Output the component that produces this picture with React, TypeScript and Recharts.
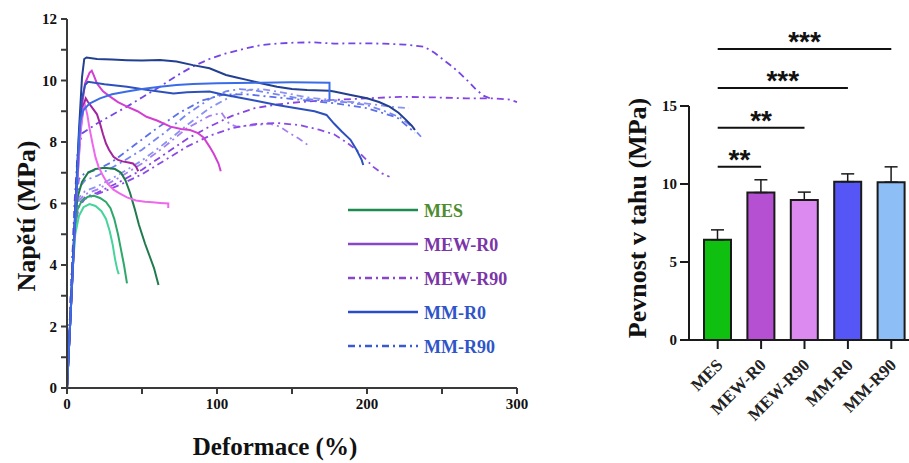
import React from "react";
import {
  LineChart,
  Line,
  XAxis,
  YAxis,
  Legend,
  BarChart,
  Bar,
  Cell,
  ErrorBar,
  ReferenceLine,
} from "recharts";

// ---- stress-strain curves: [strain %, stress MPa] ----
const mesA = [[0,0],[2,2],[4,4.1],[5.5,5.4],[7,6.2],[10,6.7],[14,7.0],[19,7.12],[25,7.16],[32,7.12],[36,7.0],[39,6.75],[42,6.35],[45,5.85],[48,5.3],[52,4.7],[55,4.3],[58,3.9],[61,3.35]];
const mesB = [[0,0],[2,2],[4,4],[5.5,5.2],[7,5.8],[10,6.1],[14,6.22],[18,6.25],[22,6.18],[26,6.05],[29,5.85],[31.5,5.5],[34,5.0],[36,4.5],[38,4.0],[40,3.4]];
const mesC = [[0,0],[2,2],[4,4],[5.5,5.0],[8,5.6],[11,5.88],[15,5.98],[19,5.92],[23,5.75],[26,5.5],[28.5,5.1],[30.5,4.65],[32,4.2],[33.5,3.85],[34.5,3.7]];

const mewR0A = [[0,0],[3,3],[6,6.2],[9,8.8],[12,9.9],[15,10.25],[16.5,10.32],[18,10.15],[20,9.9],[24,9.65],[28,9.5],[34,9.3],[40,9.15],[47,9.0],[53,8.82],[60,8.7],[69,8.5],[76,8.42],[82,8.39],[87,8.3],[91,8.15],[95,7.85],[98,7.6],[101,7.3],[102.5,7.05]];
const mewR0B = [[0,0],[3,3],[6,6.1],[9,8.4],[11,9.2],[12.5,9.42],[14,9.3],[17,9.1],[20,8.9],[22,8.6],[24,8.25],[26,7.95],[28,7.75],[31,7.52],[34,7.42],[37,7.37],[41,7.33],[44,7.3],[46,7.2],[47.5,7.05]];
const mewR0C = [[0,0],[3,3],[6,6.0],[9,8.3],[11,9.1],[12,9.2],[13.5,8.9],[15,8.45],[17,7.95],[19,7.5],[21,7.2],[24,6.9],[27,6.65],[31,6.45],[35,6.33],[40,6.2],[46,6.1],[52,6.06],[57,6.04],[62,6.02],[67.5,6.0],[67.5,5.85]];

const mewR90A = [[0,0],[3,3.5],[5,6],[7,7.6],[10,8.28],[20,8.6],[30,8.88],[40,9.15],[50,9.45],[62,9.8],[73,10.15],[84,10.46],[95,10.7],[106,10.88],[118,11.03],[129,11.15],[140,11.2],[151,11.23],[165,11.24],[178,11.2],[195,11.21],[211,11.2],[225,11.17],[238,11.1],[245,10.9],[251,10.67],[257,10.45],[262,10.23],[268,9.95],[273,9.69],[278,9.5],[282,9.42]];
const mewR90B = [[0,0],[3,3.5],[5,5.4],[8,6.0],[12,6.2],[20,6.35],[35,6.7],[50,7.1],[65,7.6],[80,8.1],[95,8.5],[110,8.85],[125,9.1],[140,9.22],[155,9.3],[175,9.36],[200,9.42],[222,9.47],[245,9.45],[266,9.42],[285,9.42],[295,9.38],[300,9.3]];
const mewR90C = [[0,0],[3,3.5],[5,5.3],[8,6.1],[12,6.3],[20,6.45],[35,6.85],[50,7.3],[65,7.85],[80,8.45],[95,8.85],[103,8.95],[108,8.6],[113,8.5],[125,8.55],[135,8.6],[142,8.5],[148,8.3],[155,8.1],[162,7.85]];
const mewR90D = [[0,0],[3,3.5],[5,5.2],[8,5.9],[12,6.15],[20,6.3],[35,6.6],[50,6.95],[65,7.4],[80,7.85],[95,8.2],[110,8.45],[125,8.58],[140,8.62],[155,8.55],[168,8.4],[178,8.25],[186,8.0],[193,7.74],[199,7.45],[204,7.2],[210,6.98],[215,6.87]];

const mmR0A = [[0,0],[2,2],[4,4.2],[6,6.3],[8,8.4],[10,10.1],[11.5,10.7],[13,10.75],[20,10.7],[30,10.68],[40,10.66],[50,10.65],[62,10.67],[73,10.62],[84,10.5],[95,10.4],[106,10.18],[113,10.1],[120,10.02],[130,9.9],[140,9.8],[150,9.72],[160,9.69],[175,9.67],[178,9.64],[190,9.52],[200,9.42],[208,9.3],[215,9.15],[221,8.95],[226,8.72],[230,8.52],[232,8.39]];
const mmR0B = [[0,0],[2,2],[4,4.1],[6,6.2],[8,8.2],[10,9.4],[12,9.85],[14,9.96],[25,9.88],[40,9.8],[55,9.68],[71,9.58],[80,9.62],[95,9.64],[103,9.55],[111,9.48],[125,9.35],[140,9.2],[155,9.08],[165,9.0],[173,8.88],[178,8.6],[183,8.35],[189,8.07],[193,7.75],[196.5,7.41],[197.5,7.25]];
const mmR0C = [[0,0],[2,2],[4,4.0],[6,6.1],[8,8.0],[9,8.7],[11,9.04],[15,9.25],[22,9.42],[30,9.55],[40,9.64],[50,9.72],[62,9.8],[73,9.85],[84,9.89],[100,9.91],[129,9.93],[150,9.94],[175,9.93],[175,9.37]];

const mmR90A = [[0,0],[3,3.5],[5,5.5],[8,6.5],[12,6.75],[20,6.9],[35,7.3],[50,7.75],[65,8.3],[80,8.9],[95,9.4],[106,9.65],[115,9.72],[125,9.68],[140,9.55],[155,9.42],[170,9.35],[185,9.3],[200,9.2],[212,9.0],[222,8.8],[230,8.5],[236,8.17]];
const mmR90B = [[0,0],[3,3.5],[5,5.4],[8,6.2],[12,6.4],[20,6.55],[35,6.95],[50,7.4],[65,7.95],[80,8.55],[95,9.1],[110,9.5],[122,9.7],[130,9.72],[145,9.6],[160,9.45],[180,9.35],[200,9.25],[215,9.15],[228,9.1]];
const mmR90C = [[0,0],[3,3.5],[5,5.8],[8,6.8],[12,7.0],[20,7.1],[30,7.35],[45,7.9],[60,8.45],[75,8.95],[90,9.35],[105,9.55],[120,9.55],[140,9.45],[160,9.35],[180,9.25],[200,9.1],[220,8.8],[232,8.3]];

const strainTicks = [0, 50, 100, 150, 200, 250, 300];
const stressTicks = [0, 1, 2, 3, 4, 5, 6, 7, 8, 9, 10, 11, 12];

const legendLabels = ["MES", "MEW-R0", "MEW-R90", "MM-R0", "MM-R90"];

// ---- tensile strength bars ----
const groups = ["MES", "MEW-R0", "MEW-R90", "MM-R0", "MM-R90"];
const strengthMean = [6.42, 9.45, 8.98, 10.15, 10.12];
const strengthSd = [0.64, 0.82, 0.5, 0.5, 0.98];
const strengthTicks = [0, 5, 10, 15];

const sigTargets = ["MEW-R0", "MEW-R90", "MM-R0", "MM-R90"];
const sigLevels = [11.1, 13.6, 16.15, 18.65];
const sigStars = ["**", "**", "***", "***"];

const SERIF = "'Liberation Serif', 'Times New Roman', serif";
const DASHDOT = "7 4 2 4";

const pts = (arr: number[][]) => arr.map(([x, y]) => ({ x, y }));

const curves = [
  { id: "mewR90A", d: mewR90A, color: "#7645e6", dash: true },
  { id: "mewR90B", d: mewR90B, color: "#8744e2", dash: true },
  { id: "mewR90C", d: mewR90C, color: "#a57ef2", dash: true },
  { id: "mewR90D", d: mewR90D, color: "#8c4ae6", dash: true },
  { id: "mmR90A", d: mmR90A, color: "#7686f0", dash: true },
  { id: "mmR90B", d: mmR90B, color: "#8a92f2", dash: true },
  { id: "mmR90C", d: mmR90C, color: "#5c70e8", dash: true },
  { id: "mesA", d: mesA, color: "#1f7a4c", dash: false },
  { id: "mesB", d: mesB, color: "#2ea86a", dash: false },
  { id: "mesC", d: mesC, color: "#45d49c", dash: false },
  { id: "mewR0A", d: mewR0A, color: "#d23fd2", dash: false },
  { id: "mewR0B", d: mewR0B, color: "#a3259e", dash: false },
  { id: "mewR0C", d: mewR0C, color: "#ee68ee", dash: false },
  { id: "mmR0A", d: mmR0A, color: "#233f8f", dash: false },
  { id: "mmR0B", d: mmR0B, color: "#2e50bd", dash: false },
  { id: "mmR0C", d: mmR0C, color: "#3b6ce8", dash: false },
];

const legendLine = ["#1e8a50", "#8a46c8", "#8a46c8", "#2a4cc8", "#3a5ad0"];
const legendText = ["#4e8c2e", "#7a35a8", "#7a35a8", "#2f55c8", "#2f55c8"];
const legendDash = [false, false, true, false, true];

const barFill = ["#10c010", "#b550d2", "#dd8af0", "#5656f6", "#8ebef6"];

const barData = groups.map((g, i) => ({
  name: g,
  mean: strengthMean[i],
  err: [0, strengthSd[i]],
}));

const renderLegend = () => (
  <svg width={200} height={170}>
    {legendLabels.map((lab, i) => {
      const y = 10 + i * 34;
      return (
        <g key={lab}>
          <line x1={0} x2={70} y1={y} y2={y} stroke={legendLine[i]} strokeWidth={2.5}
            strokeDasharray={legendDash[i] ? DASHDOT : undefined} />
          <text x={76} y={y + 6.5} fill={legendText[i]} fontFamily={SERIF} fontWeight="bold" fontSize={18}>
            {lab}
          </text>
        </g>
      );
    })}
  </svg>
);

const CatTick = (props: any) => {
  const { x, y, payload } = props;
  const ax = x + 6;
  const ay = y + 15;
  return (
    <text x={ax} y={ay} textAnchor="end" transform={`rotate(-45 ${ax} ${ay})`}
      fontFamily={SERIF} fontWeight="bold" fontSize={17} fill="#222">
      {payload.value}
    </text>
  );
};

// numeric tick, side = "left" for y axes, "bottom" for x axes
const NumTick = (props: any) => {
  const { x, y, payload, side, every } = props;
  if (payload.value % every !== 0) return null;
  const common = { fontFamily: SERIF, fontWeight: "bold", fontSize: 15, fill: "#111" };
  if (side === "left") {
    return (
      <text x={x} y={y} dy={5} textAnchor="end" {...common}>
        {payload.value}
      </text>
    );
  }
  return (
    <text x={x} y={y} dy={11} textAnchor="middle" {...common}>
      {payload.value}
    </text>
  );
};

export default function App() {
  return (
    <div style={{ position: "absolute", left: 0, top: 0, width: 909, height: 463, overflow: "hidden", background: "#fff", fontFamily: SERIF }}>
      <div style={{ position: "absolute", left: 0, top: 0 }}>
        <LineChart width={560} height={463} margin={{ top: 19, right: 43, left: 0, bottom: 0 }}>
          <XAxis
            type="number"
            dataKey="x"
            domain={[0, 300]}
            ticks={strainTicks}
            height={75}
            tickSize={6}
            tickMargin={4}
            stroke="#3a3a3a"
            strokeWidth={2}
            tick={<NumTick side="bottom" every={100} />}
            label={{
              content: () => (
                <text x={275} y={455} textAnchor="middle" fontFamily={SERIF} fontWeight="bold" fontSize={25} fill="#111">
                  Deformace (%)
                </text>
              ),
            }}
          />
          <YAxis
            type="number"
            dataKey="y"
            domain={[0, 12]}
            ticks={stressTicks}
            width={67}
            tickSize={6}
            tickMargin={4}
            stroke="#3a3a3a"
            strokeWidth={2}
            tick={<NumTick side="left" every={2} />}
            label={{
              content: () => (
                <text x={35} y={216} textAnchor="middle" transform="rotate(-90 35 216)"
                  fontFamily={SERIF} fontWeight="bold" fontSize={26} fill="#111">
                  Napětí (MPa)
                </text>
              ),
            }}
          />
          {curves.map((c) => (
            <Line
              key={c.id}
              data={pts(c.d)}
              dataKey="y"
              type="linear"
              stroke={c.color}
              strokeWidth={c.dash ? 1.8 : 2}
              strokeDasharray={c.dash ? DASHDOT : undefined}
              dot={false}
              activeDot={false}
              isAnimationActive={false}
            />
          ))}
          <Legend
            layout="horizontal"
            verticalAlign="middle"
            align="center"
            content={renderLegend}
            wrapperStyle={{ position: "absolute", left: 348, top: 200, width: 200 }}
          />
        </LineChart>
      </div>

      <div style={{ position: "absolute", left: 560, top: 0 }}>
        <BarChart width={360} height={463} data={barData} margin={{ top: 106, right: 7, left: 0, bottom: 0 }}>
          <XAxis
            dataKey="name"
            height={123}
            padding={{ left: 7, right: 0 }}
            tickSize={9}
            stroke="#1a1a1a"
            strokeWidth={2}
            tick={<CatTick />}
            interval={0}
          />
          <YAxis
            domain={[0, 15]}
            ticks={strengthTicks}
            width={129}
            tickSize={9}
            tickMargin={3}
            stroke="#1a1a1a"
            strokeWidth={2}
            tick={<NumTick side="left" every={5} />}
            label={{
              content: () => (
                <text x={86} y={218} textAnchor="middle" transform="rotate(-90 86 218)"
                  fontFamily={SERIF} fontWeight="bold" fontSize={26} fill="#111">
                  Pevnost v tahu (MPa)
                </text>
              ),
            }}
          />
          <Bar dataKey="mean" barSize={27} stroke="#1a1a1a" strokeWidth={2} isAnimationActive={false}>
            {barData.map((d, i) => (
              <Cell key={d.name} fill={barFill[i]} />
            ))}
            <ErrorBar dataKey="err" direction="y" width={6.5} strokeWidth={1.5} stroke="#1a1a1a" />
          </Bar>
          {sigTargets.map((t, i) => (
            <ReferenceLine
              key={t}
              segment={[{ x: "MES", y: sigLevels[i] }, { x: t, y: sigLevels[i] }]}
              stroke="#111"
              strokeWidth={2}
              ifOverflow="visible"
              label={{
                value: sigStars[i],
                position: "top",
                offset: -2,
                fontFamily: "'Liberation Sans', Arial, sans-serif",
                fontWeight: "bold",
                fontSize: 28,
                fill: "#111",
              }}
            />
          ))}
        </BarChart>
      </div>
    </div>
  );
}
